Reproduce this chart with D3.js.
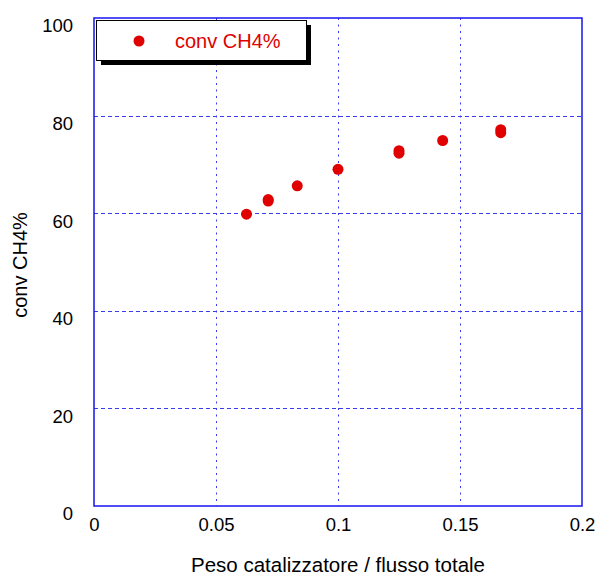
<!DOCTYPE html>
<html>
<head>
<meta charset="utf-8">
<script src="https://cdn.jsdelivr.net/npm/d3@7"></script>
<style>
  body { margin: 0; background: #fff; }
  svg { display: block; font-family: "Liberation Sans", Arial, sans-serif; }
</style>
</head>
<body>
<div id="mainChart"></div>
<script>
// catalyst weight / total flow vs CH4 conversion
const pesoFlusso = [0.0625, 0.0714, 0.0714, 0.0833, 0.1, 0.125, 0.125, 0.1429, 0.1667, 0.1667];
const convCH4 = [59.8, 62.5, 62.8, 65.6, 69.0, 72.3, 72.8, 74.9, 76.5, 77.1];
const xTicks = [0, 0.05, 0.1, 0.15, 0.2];
const yTicks = [0, 20, 40, 60, 80, 100];
const seriesName = 'conv CH4%';

const width = 601, height = 576;
const margin = { top: 18, right: 19, bottom: 70, left: 94 };

const svg = d3.select('#mainChart').append('svg')
    .attr('width', width)
    .attr('height', height);

const x = d3.scaleLinear()
    .domain([0, 0.2])
    .range([margin.left, width - margin.right]);

const y = d3.scaleLinear()
    .domain([0, 100])
    .range([height - margin.bottom, margin.top]);

const blue = '#3a3aee';

// grid
svg.append('g')
    .selectAll('line')
    .data(yTicks.slice(1, -1))
    .join('line')
    .attr('x1', x(0)).attr('x2', x(0.2))
    .attr('y1', d => Math.round(y(d)) + 0.5).attr('y2', d => Math.round(y(d)) + 0.5)
    .attr('stroke', blue)
    .attr('stroke-width', 1)
    .attr('stroke-dasharray', '4,3');

svg.append('g')
    .selectAll('line')
    .data(xTicks.slice(1, -1))
    .join('line')
    .attr('y1', y(100)).attr('y2', y(0))
    .attr('x1', d => Math.round(x(d)) + 0.5).attr('x2', d => Math.round(x(d)) + 0.5)
    .attr('stroke', blue)
    .attr('stroke-width', 1)
    .attr('stroke-dasharray', '2,4.5');

// frame
svg.append('rect')
    .attr('x', x(0)).attr('y', y(100))
    .attr('width', x(0.2) - x(0)).attr('height', y(0) - y(100))
    .attr('fill', 'none')
    .attr('stroke', '#1414ee')
    .attr('stroke-width', 1.5);

// axes (labels only)
const xAxis = g => g
    .attr('transform', `translate(0,${y(0) + 9})`)
    .call(d3.axisBottom(x).tickValues(xTicks).tickSize(0).tickFormat(d3.format('')))
    .call(g => g.select('.domain').remove())
    .call(g => g.selectAll('text')
        .attr('fill', '#000')
        .attr('font-size', 18.5)
        .attr('font-family', '"Liberation Sans", Arial, sans-serif'));

const yAxis = g => g
    .attr('transform', `translate(${x(0) - 18},0)`)
    .call(d3.axisLeft(y).tickValues(yTicks).tickSize(0))
    .call(g => g.select('.domain').remove())
    .call(g => g.selectAll('text')
        .attr('fill', '#000')
        .attr('dy', '0.75em')
        .attr('font-size', 18.5)
        .attr('font-family', '"Liberation Sans", Arial, sans-serif'));

svg.append('g').call(xAxis);
svg.append('g').call(yAxis);

// axis titles
svg.append('text')
    .attr('x', (x(0) + x(0.2)) / 2)
    .attr('y', height - 4)
    .attr('text-anchor', 'middle')
    .attr('font-size', 20.5)
    .text('Peso catalizzatore / flusso totale');

svg.append('text')
    .attr('transform', `translate(27,${(y(0) + y(100)) / 2 + 3}) rotate(-90)`)
    .attr('text-anchor', 'middle')
    .attr('font-size', 20)
    .text(seriesName);

// points
svg.append('g')
    .selectAll('circle')
    .data(pesoFlusso.map((d, i) => [d, convCH4[i]]))
    .join('circle')
    .attr('cx', d => x(d[0]))
    .attr('cy', d => y(d[1]))
    .attr('r', 5.5)
    .attr('fill', '#e00000');

// legend
const legend = svg.append('g').attr('transform', 'translate(96,20)');
legend.append('rect')
    .attr('x', 5).attr('y', 5)
    .attr('width', 210).attr('height', 40)
    .attr('fill', '#000');
legend.append('rect')
    .attr('x', 0.5).attr('y', 0.5)
    .attr('width', 210).attr('height', 40)
    .attr('fill', '#fff')
    .attr('stroke', '#000')
    .attr('stroke-width', 1);
legend.append('circle')
    .attr('cx', 43).attr('cy', 21)
    .attr('r', 5.5)
    .attr('fill', '#e00000');
legend.append('text')
    .attr('x', 79).attr('y', 28)
    .attr('font-size', 20)
    .attr('fill', '#e00000')
    .text(seriesName);
</script>
</body>
</html>
